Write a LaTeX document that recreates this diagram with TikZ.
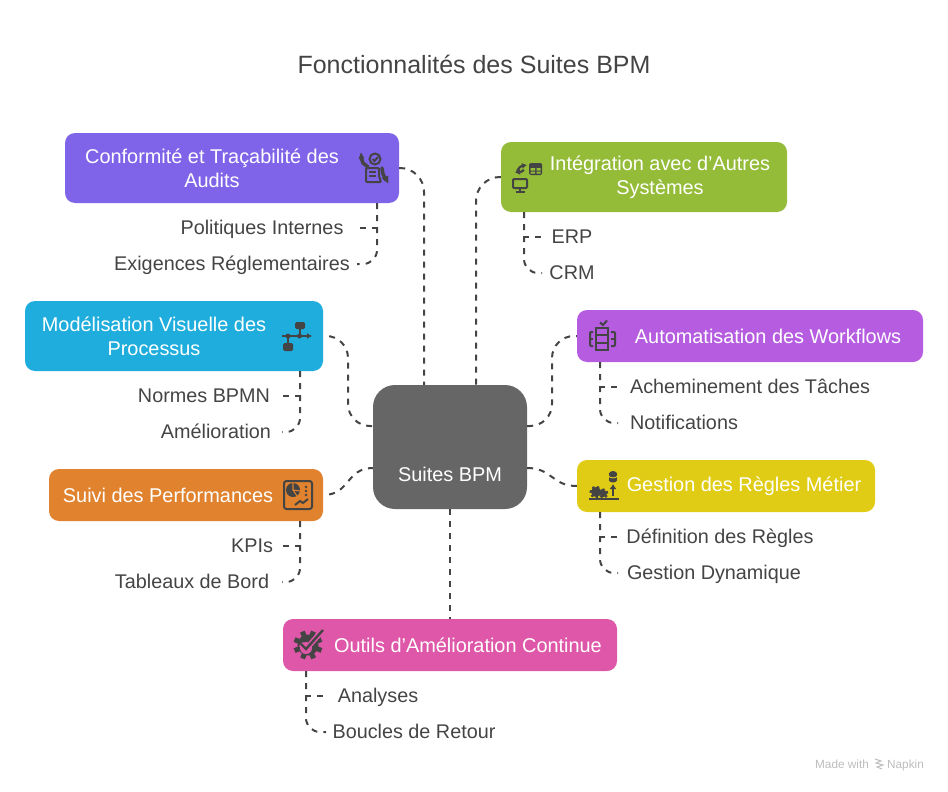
\documentclass[tikz,border=0pt]{standalone}
\usepackage{fontspec}
\setmainfont{Liberation Sans}
\usetikzlibrary{arrows.meta}
\definecolor{inkgrey}{HTML}{444444}
\definecolor{hubgrey}{HTML}{666666}
\definecolor{confcol}{HTML}{7F63E8}
\definecolor{integcol}{HTML}{94BC38}
\definecolor{modelcol}{HTML}{1EADDC}
\definecolor{autocol}{HTML}{B55CE0}
\definecolor{suivicol}{HTML}{E0822E}
\definecolor{reglecol}{HTML}{E0CC14}
\definecolor{outilcol}{HTML}{DE57A8}
\definecolor{markcol}{HTML}{BDBDBD}
\begin{document}
\begin{tikzpicture}[x=1pt,y=-1pt,
	box/.style={rounded corners=10pt,inner sep=0pt},
	boxtext/.style={text=white,align=center,inner sep=0pt,font=\fontsize{19.9}{24}\selectfont},
	item/.style={text=inkgrey,inner sep=0pt,yshift=-1pt,text height=14.5pt,text depth=4.5pt,font=\fontsize{19.8}{24}\selectfont},
	link/.style={draw=inkgrey,line width=2pt,dash pattern=on 6pt off 6pt},
	iconline/.style={draw=inkgrey,line width=2pt},
	brand/.style={text=markcol,inner sep=0pt,anchor=base,font=\fontsize{11.8}{14}\selectfont}]
	\useasboundingbox (0,0) rectangle (948,792);
	\node[text=inkgrey,inner sep=0pt,font=\fontsize{25}{30}\selectfont] (title) at (474,64.5) {Fonctionnalités des Suites BPM};
	% boxes
	\node[box,fill=hubgrey,rounded corners=22pt,minimum width=154pt,minimum height=124pt] (suites) at (450,447) {};
	\node[boxtext] (suitesT) at (450,474) {Suites BPM};
	\node[box,fill=confcol,minimum width=334pt,minimum height=70pt] (conformite) at (232,168) {};
	\node[boxtext] (conformiteT) at (212,168) {Conformité et Traçabilité des\\Audits};
	\node[box,fill=integcol,minimum width=286pt,minimum height=70pt] (integration) at (644,177) {};
	\node[boxtext] (integrationT) at (660,177) {Intégration avec d’Autres\\Systèmes};
	\node[box,fill=modelcol,minimum width=298pt,minimum height=70pt] (modele) at (174,336) {};
	\node[boxtext] (modeleT) at (154,336) {Modélisation Visuelle des\\Processus};
	\node[box,fill=autocol,minimum width=346pt,minimum height=52pt] (auto) at (750,336) {};
	\node[boxtext] (autoT) at (768,336) {Automatisation des Workflows};
	\node[box,fill=suivicol,minimum width=274pt,minimum height=52pt] (suivi) at (186,495) {};
	\node[boxtext] (suiviT) at (168,495) {Suivi des Performances};
	\node[box,fill=reglecol,minimum width=298pt,minimum height=52pt] (regles) at (726,486) {};
	\node[boxtext] (reglesT) at (744,486) {Gestion des Règles Métier};
	\node[box,fill=outilcol,minimum width=334pt,minimum height=52pt] (outils) at (450,645) {};
	\node[boxtext] (outilsT) at (468,645) {Outils d’Amélioration Continue};
	% items
	\node[item] (politiques) at (262,228) {Politiques Internes};
	\node[item] (exigences) at (232,264) {Exigences Réglementaires};
	\node[item] (erp) at (572,237) {ERP};
	\node[item] (crm) at (572,273) {CRM};
	\node[item] (normes) at (204,396) {Normes BPMN};
	\node[item] (amelio) at (216,432) {Amélioration};
	\node[item] (achemin) at (750,387) {Acheminement des Tâches};
	\node[item] (notif) at (684,423) {Notifications};
	\node[item] (kpis) at (252,546) {KPIs};
	\node[item] (tableaux) at (192,582) {Tableaux de Bord};
	\node[item] (defin) at (720,537) {Définition des Règles};
	\node[item] (gestdyn) at (714,573) {Gestion Dynamique};
	\node[item] (analyses) at (378,696) {Analyses};
	\node[item] (boucles) at (414,732) {Boucles de Retour};
	% free ends
	\coordinate (politiquesE) at (358,228);
	\coordinate (exigencesE) at (357,264);
	\coordinate (erpE) at (542,237);
	\coordinate (crmE) at (542,273);
	\coordinate (normesE) at (282,396);
	\coordinate (amelioE) at (282,432);
	\coordinate (acheminE) at (618,387);
	\coordinate (notifE) at (618,423);
	\coordinate (kpisE) at (282,546);
	\coordinate (tableauxE) at (282,582);
	\coordinate (definE) at (618,537);
	\coordinate (gestdynE) at (618,573);
	\coordinate (analysesE) at (326,696);
	\coordinate (bouclesE) at (326,732);
	% hub links
	\draw[link,rounded corners=24pt] (conformite.east) -| (suites.north -| 424,0);
	\draw[link,rounded corners=24pt] (integration.west) -| (suites.north -| 476,0);
	\draw[link,rounded corners=22pt,dash phase=6pt] (modele.east) -- (348,336) -- (348,426) -- (suites.west |- 0,426);
	\draw[link,rounded corners=22pt] (suites.east |- 0,426) -- (552,426) -- (552,336) -- (auto.west);
	\draw[link,dash phase=6pt] (suivi.east) .. controls (350,495) and (346,468) .. (suites.west |- 0,468);
	\draw[link] (suites.east |- 0,468) .. controls (552,468) and (552,486) .. (regles.west);
	\draw[link] (suites.south) -- (outils.north);
	% item links
	\draw[link] (conformite.south -| 377,0) -- (377,228) -- (politiquesE);
	\draw[link,rounded corners=14pt] (conformite.south -| 377,0) -- (377,264) -- (exigencesE);
	\draw[link] (integration.south -| 524,0) -- (524,237) -- (erpE);
	\draw[link,rounded corners=14pt] (integration.south -| 524,0) -- (524,273) -- (crmE);
	\draw[link] (modele.south -| 300,0) -- (300,396) -- (normesE);
	\draw[link,rounded corners=14pt] (modele.south -| 300,0) -- (300,432) -- (amelioE);
	\draw[link] (auto.south -| 600,0) -- (600,387) -- (acheminE);
	\draw[link,rounded corners=14pt] (auto.south -| 600,0) -- (600,423) -- (notifE);
	\draw[link] (suivi.south -| 300,0) -- (300,546) -- (kpisE);
	\draw[link,rounded corners=14pt] (suivi.south -| 300,0) -- (300,582) -- (tableauxE);
	\draw[link] (regles.south -| 600,0) -- (600,537) -- (definE);
	\draw[link,rounded corners=14pt] (regles.south -| 600,0) -- (600,573) -- (gestdynE);
	\draw[link] (outils.south -| 306,0) -- (306,696) -- (analysesE);
	\draw[link,rounded corners=14pt] (outils.south -| 306,0) -- (306,732) -- (bouclesE);
	% icon conformite
	\draw[iconline] (375,159) circle (5.5pt);
	\draw[iconline] (372.5,159) -- (374.5,161) -- (378,157);
	\draw[iconline,rounded corners=1pt] (366,168) -- (366,182) -- (381,182) -- (379,176) -- (379,168) -- cycle;
	\draw[iconline,line width=1.5pt] (369,172) -- (376,172) (369,176) -- (376,176);
	\draw[iconline,line width=3.5pt,line cap=round] (361,157) -- (363,163) -- (368,167);
	\draw[inkgrey,fill=inkgrey] (359,159) -- (361,153) -- (364,158) -- cycle;
	\draw[iconline,line width=3.5pt,line cap=round] (382,168) -- (383,174) -- (386,180);
	\draw[inkgrey,fill=inkgrey] (382,178) -- (388,183) -- (388,176) -- cycle;
	% icon integration
	\draw[iconline,rounded corners=1pt] (513,179) rectangle (527,188);
	\draw[iconline] (520,188) -- (520,191.5) (515.5,192) -- (524.5,192);
	\fill[inkgrey,rounded corners=1.5pt] (529,163) rectangle (542,175);
	\fill[integcol] (530.5,168) rectangle (535,170.5) (536.5,168) rectangle (540.5,170.5) (530.5,171.5) rectangle (535,173.5) (536.5,171.5) rectangle (540.5,173.5);
	\draw[iconline,line width=2.2pt,-{Latex[length=5pt,width=6pt]}] (524,170) .. controls (522,172) and (520,172) .. (515,172.5);
	\draw[iconline,line width=2.2pt,-{Latex[length=5pt,width=6pt]}] (517,172) .. controls (518,168) and (521,166) .. (527,165);
	% icon modele
	\fill[inkgrey,rounded corners=1.5pt] (295,322) rectangle (305,329);
	\fill[inkgrey,rounded corners=1.5pt] (283,343) rectangle (293,351);
	\draw[iconline,-{Latex[length=5pt,width=6pt]}] (282,336) -- (312,336);
	\draw[iconline] (299.5,329) -- (299.5,336) (288,336) -- (288,343);
	\fill[inkgrey] (288,336) circle (2.5pt) (299.5,336) circle (2.5pt);
	% icon auto
	\draw[iconline] (596,328) rectangle (608,350) (596,335) -- (608,335) (596,342.5) -- (608,342.5);
	\draw[iconline,rounded corners=1pt] (593,332) -- (590,332) -- (590,346) -- (593,346);
	\draw[iconline,rounded corners=1pt] (611,332) -- (615,332) -- (615,346) -- (611,346);
	\draw[iconline] (590,339) -- (593,339) (611,339) -- (615,339);
	\draw[iconline] (600,322.5) -- (603,325) -- (607,320.5);
	% icon suivi
	\draw[iconline,rounded corners=2.5pt] (284,481) rectangle (312,509);
	\fill[inkgrey] (293,490) circle (7pt);
	\draw[suivicol,line width=1.1pt] (293,490) -- (293,483) (293,490) -- (300,491) (293,490) -- (297,496);
	\fill[inkgrey] (306,487) circle (1.3pt) (306,491) circle (1.3pt) (306,495) circle (1.3pt);
	\draw[iconline] (295,505) -- (300,501) -- (303,503) -- (308,499);
	% icon regles
	\fill[inkgrey] (609,474) rectangle (617,480);
	\fill[inkgrey] (613,474) ellipse (4.2pt and 3pt) (613,480) ellipse (4.2pt and 2.5pt);
	\draw[reglecol,line width=0.9pt] (608.5,476) .. controls (610,478.5) and (616,478.5) .. (617.5,476);
	\draw[iconline,-{Latex[length=5pt,width=7pt]}] (613,496) -- (613,484);
	\fill[inkgrey] (596,492) circle (5pt) (603.5,493.5) circle (3.5pt);
	\draw[inkgrey,line width=2pt,dash pattern=on 2.5pt off 2.5pt] (596,492) circle (5.5pt) (603.5,493.5) circle (4pt);
	\draw[inkgrey,line width=2pt] (589,498.5) -- (619,498.5);
	% icon outils
	\fill[inkgrey] (308,645) circle (10.5pt);
	\foreach \ang in {0,45,...,315} \draw[inkgrey,line width=5pt] (308,645) -- ++(\ang+22:14.5);
	\fill[outilcol] (306,648) circle (6pt);
	\fill[inkgrey] (306,648) circle (3pt);
	\draw[outilcol,line width=5.5pt] (301,644) -- (306,649) -- (323,630);
	\draw[inkgrey,line width=2.4pt] (301,644) -- (306,649) -- (323,630);
	% brand
	\node[brand] (madewith) at (842,768) {Made with};
	\node[brand] (napkin) at (905.5,768) {Napkin};
	\draw[markcol,line width=1pt] (875,759) -- (881,761) -- (876,763) -- (883,765) -- (877,767) -- (882,769);
\end{tikzpicture}
\end{document}
